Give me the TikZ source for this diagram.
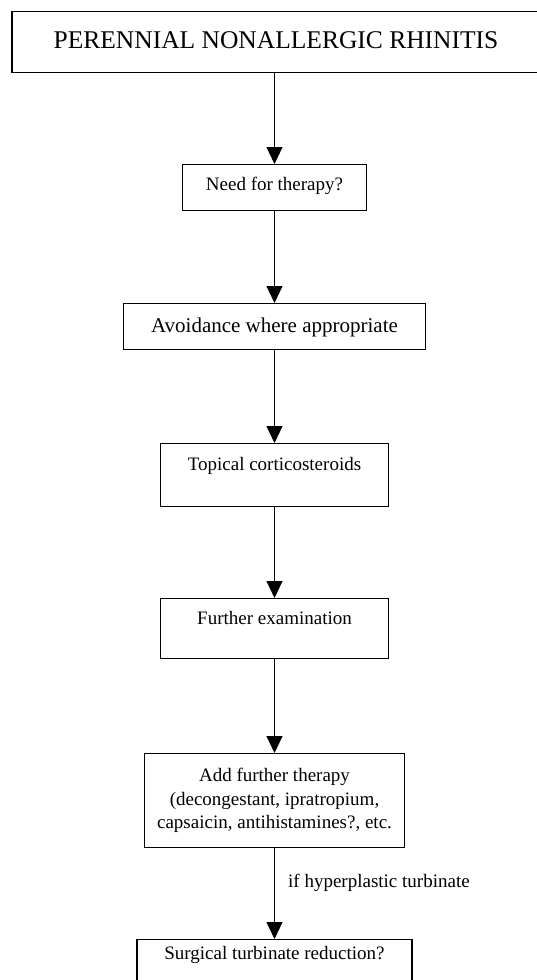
\documentclass[tikz,border=0pt]{standalone}
\usepackage{fontspec}
\setmainfont{Liberation Serif}
\usetikzlibrary{arrows.meta}
\begin{document}
\begin{tikzpicture}[x=1pt,y=-1pt,
  box/.style={draw=black, line width=1.1pt, rectangle, inner sep=0pt, anchor=north, fill=none},
  txt/.style={font=\fontsize{19}{23.5}\selectfont},
  arr/.style={draw=black, line width=1.1pt, -{Triangle[width=16pt,length=17pt]}}]
\useasboundingbox (0,0) rectangle (537,980);
\node[box, minimum width=528pt, text height=37pt, text depth=24pt, font=\fontsize{25.5}{30}\selectfont] (b1) at (276,11) {PERENNIAL NONALLERGIC RHINITIS};
\node[box, txt, minimum width=184pt, text height=26pt, text depth=20pt] (b2) at (274.5,164) {Need for therapy?};
\node[box, minimum width=302pt, text height=29pt, text depth=17pt, font=\fontsize{21}{25}\selectfont] (b3) at (274.5,303) {Avoidance where appropriate};
\node[box, txt, minimum width=228pt, text height=27pt, text depth=36pt] (b4) at (274.5,443) {Topical corticosteroids};
\node[box, txt, minimum width=228pt, text height=26pt, text depth=34pt] (b5) at (274.5,598) {Further examination};
\node[box, txt, minimum width=260pt, minimum height=94pt, align=center] (b6) at (274.5,753) {Add further therapy\\(decongestant, ipratropium,\\capsaicin, antihistamines?, etc.};
\node[box, txt, minimum width=275pt, text height=20pt, text depth=26pt] (b7) at (274.5,939) {Surgical turbinate reduction?};
\node[txt, anchor=base west, inner sep=0pt] (lbl) at (288,887) {if hyperplastic turbinate};
\draw[arr] (b1.south -| b2.north) -- (b2.north);
\draw[arr] (b2.south) -- (b3.north);
\draw[arr] (b3.south) -- (b4.north);
\draw[arr] (b4.south) -- (b5.north);
\draw[arr] (b5.south) -- (b6.north);
\draw[arr] (b6.south) -- (b7.north);
\end{tikzpicture}
\end{document}
